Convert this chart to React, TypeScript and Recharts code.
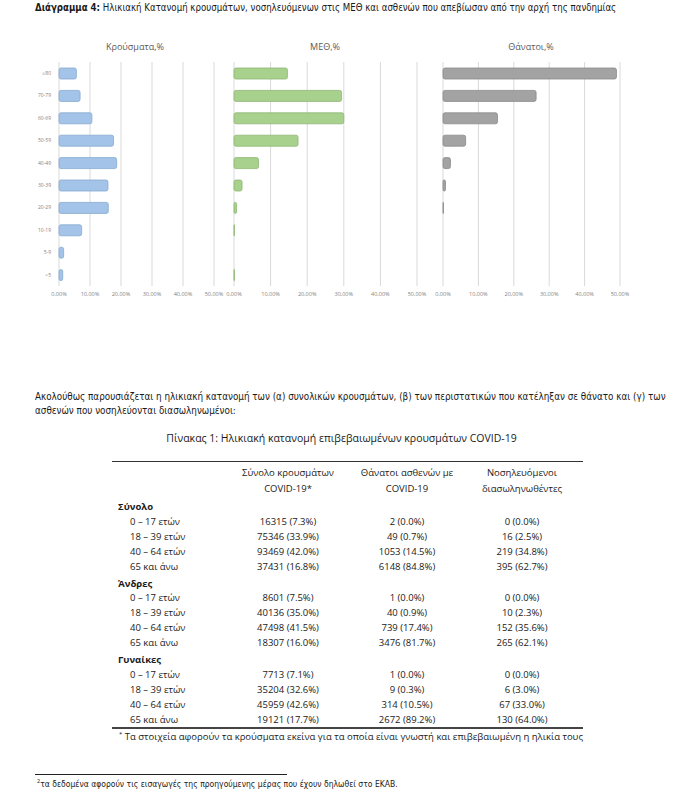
import React from 'react';
import { BarChart, Bar, XAxis, YAxis, CartesianGrid } from 'recharts';

const AGE_GROUPS = ['≥80', '70-79', '60-69', '50-59', '40-49', '30-39', '20-29', '10-19', '5-9', '<5'];
const CASES = [5.6, 6.8, 10.6, 17.6, 18.6, 15.8, 15.9, 7.3, 1.5, 1.2];
const ICU = [14.6, 29.4, 30.0, 17.5, 6.7, 2.2, 0.7, 0.1, 0.0, 0.1];
const DEATHS = [49.0, 26.3, 15.4, 6.4, 2.1, 0.7, 0.1, 0.0, 0.0, 0.0];
const X_TICKS = [0, 10, 20, 30, 40, 50];

const GROUPS = ['Σύνολο', 'Άνδρες', 'Γυναίκες'];
const ROW_LABELS = ['0 – 17 ετών', '18 – 39 ετών', '40 – 64 ετών', '65 και άνω'];
const COL_HEADERS = [['Σύνολο κρουσμάτων', 'COVID-19*'], ['Θάνατοι ασθενών με', 'COVID-19'], ['Νοσηλευόμενοι', 'διασωληνωθέντες']];
const TOTAL_CASES = ['16315 (7.3%)', '75346 (33.9%)', '93469 (42.0%)', '37431 (16.8%)'];
const TOTAL_DEATHS = ['2 (0.0%)', '49 (0.7%)', '1053 (14.5%)', '6148 (84.8%)'];
const TOTAL_INTUB = ['0 (0.0%)', '16 (2.5%)', '219 (34.8%)', '395 (62.7%)'];
const MEN_CASES = ['8601 (7.5%)', '40136 (35.0%)', '47498 (41.5%)', '18307 (16.0%)'];
const MEN_DEATHS = ['1 (0.0%)', '40 (0.9%)', '739 (17.4%)', '3476 (81.7%)'];
const MEN_INTUB = ['0 (0.0%)', '10 (2.3%)', '152 (35.6%)', '265 (62.1%)'];
const WOMEN_CASES = ['7713 (7.1%)', '35204 (32.6%)', '45959 (42.6%)', '19121 (17.7%)'];
const WOMEN_DEATHS = ['1 (0.0%)', '9 (0.3%)', '314 (10.5%)', '2672 (89.2%)'];
const WOMEN_INTUB = ['0 (0.0%)', '6 (3.0%)', '67 (33.0%)', '130 (64.0%)'];

const NARROW = '"Liberation Sans Narrow", "DejaVu Sans Condensed", "Roboto", sans-serif';
const BODY = '"Open Sans", "Noto Sans", sans-serif';

const chartData = AGE_GROUPS.map((age, i) => ({ age, cases: CASES[i], icu: ICU[i], deaths: DEATHS[i] }));
const fmt = (v: number) => `${v.toFixed(2).replace('.', ',')}%`;
const tickStyle = { fontSize: 5.5, fill: '#7f7f7f', fontFamily: BODY };

// grid lines at every tick, through the axis scale when it is handed over
const gridX = (props: any) => {
  const scale = props?.xAxis?.scale;
  if (typeof scale === 'function') return X_TICKS.map((v) => scale(v));
  const o = props.offset;
  return X_TICKS.map((v) => o.left + (v / 50) * o.width);
};

function Panel({ field, fill, stroke, left, width, marginLeft, showY }: {
  field: string; fill: string; stroke: string; left: number; width: number; marginLeft: number; showY?: boolean;
}) {
  return (
    <div style={{ position: 'absolute', left, top: 55 }}>
      <BarChart width={width} height={251} data={chartData} layout="vertical"
        margin={{ top: 7, right: 10, left: marginLeft, bottom: 0 }} barSize={11}>
        <CartesianGrid horizontal={false} stroke="#d9d9d9" verticalCoordinatesGenerator={gridX} />
        <XAxis type="number" domain={[0, 50]} ticks={X_TICKS} tickFormatter={fmt} axisLine={false}
          tickLine={false} tickSize={4} height={20} tick={tickStyle} />
        <YAxis type="category" dataKey="age" hide={!showY} width={59} axisLine={false}
          tickLine={false} tick={{ ...tickStyle, fontSize: 5 }} />
        <Bar dataKey={field} fill={fill} stroke={stroke} strokeWidth={0.8} radius={2} isAnimationActive={false} />
      </BarChart>
    </div>
  );
}

const cellCol: React.CSSProperties = { position: 'absolute', width: 140, textAlign: 'center', transform: 'translateX(-70px)' };

export default function App() {
  const tableGroups = [
    [TOTAL_CASES, TOTAL_DEATHS, TOTAL_INTUB],
    [MEN_CASES, MEN_DEATHS, MEN_INTUB],
    [WOMEN_CASES, WOMEN_DEATHS, WOMEN_INTUB],
  ];
  const colX = [288, 407, 522];
  return (
    <div style={{ position: 'absolute', left: 0, top: 0, width: 683, height: 807, background: '#fff', color: '#1a1a1a', overflow: 'hidden' }}>
      <div style={{ position: 'absolute', left: 35, top: 2, fontFamily: NARROW, fontSize: 9.6, whiteSpace: 'nowrap' }}>
        <b>Διάγραμμα 4:</b> Ηλικιακή Κατανομή κρουσμάτων, νοσηλευόμενων στις ΜΕΘ και ασθενών που απεβίωσαν από την αρχή της πανδημίας
      </div>

      {[['Κρούσματα,%', 135], ['ΜΕΘ,%', 325], ['Θάνατοι,%', 531]].map(([t, x]) => (
        <div key={t as string} style={{ position: 'absolute', left: (x as number) - 60, width: 120, top: 40, textAlign: 'center', fontFamily: BODY, fontSize: 9, color: '#595959' }}>{t}</div>
      ))}

      <Panel field="cases" fill="#a3c4e8" stroke="#86a9d0" left={0} width={224} marginLeft={0} showY />
      <Panel field="icu" fill="#a9d18e" stroke="#8db673" left={222} width={205} marginLeft={12} />
      <Panel field="deaths" fill="#a3a3a3" stroke="#8a8a8a" left={430} width={200} marginLeft={13} />

      <div style={{ position: 'absolute', left: 35, top: 390, width: 640, fontFamily: NARROW, fontSize: 9.8, lineHeight: '14px' }}>
        Ακολούθως παρουσιάζεται η ηλικιακή κατανομή των (α) συνολικών κρουσμάτων, (β) των περιστατικών που κατέληξαν σε θάνατο και (γ) των ασθενών που νοσηλεύονται διασωληνωμένοι:
      </div>
      <div style={{ position: 'absolute', left: 0, width: 683, top: 431, textAlign: 'center', fontFamily: BODY, fontSize: 10.5 }}>
        Πίνακας 1: Ηλικιακή κατανομή επιβεβαιωμένων κρουσμάτων COVID-19
      </div>

      <div style={{ position: 'absolute', left: 112, top: 461, width: 471, borderTop: '1.5px solid #333' }} />
      {COL_HEADERS.map((h, c) => (
        <div key={c} style={{ ...cellCol, left: colX[c], top: 465, fontFamily: BODY, fontSize: 9.5, lineHeight: '16px' }}>
          {h[0]}<br />{h[1]}
        </div>
      ))}
      {GROUPS.map((g, gi) => {
        const top = 500 + gi * 76.5;
        return (
          <React.Fragment key={g}>
            <div style={{ position: 'absolute', left: 118, top, fontFamily: BODY, fontSize: 9.5, fontWeight: 700 }}>{g}</div>
            {ROW_LABELS.map((r, ri) => (
              <React.Fragment key={r}>
                <div style={{ position: 'absolute', left: 130, top: top + 14.5 + ri * 15, fontFamily: BODY, fontSize: 9.5 }}>{r}</div>
                {tableGroups[gi].map((col, c) => (
                  <div key={c} style={{ ...cellCol, left: colX[c], top: top + 14.5 + ri * 15, fontFamily: BODY, fontSize: 9.5 }}>{col[ri]}</div>
                ))}
              </React.Fragment>
            ))}
          </React.Fragment>
        );
      })}
      <div style={{ position: 'absolute', left: 112, top: 727, width: 471, borderTop: '2px solid #444' }} />
      <div style={{ position: 'absolute', left: 119, top: 730, fontFamily: BODY, fontSize: 9.5, whiteSpace: 'nowrap' }}>
        <sup style={{ fontSize: 6 }}>*</sup> Τα στοιχεία αφορούν τα κρούσματα εκείνα για τα οποία είναι γνωστή και επιβεβαιωμένη η ηλικία τους
      </div>

      <div style={{ position: 'absolute', left: 35, top: 774, width: 252, borderTop: '1px solid #222' }} />
      <div style={{ position: 'absolute', left: 37, top: 778, fontFamily: NARROW, fontSize: 8.5, whiteSpace: 'nowrap' }}>
        <sup style={{ fontSize: 5.5 }}>2</sup>τα δεδομένα αφορούν τις εισαγωγές της προηγούμενης μέρας που έχουν δηλωθεί στο ΕΚΑΒ.
      </div>
    </div>
  );
}
